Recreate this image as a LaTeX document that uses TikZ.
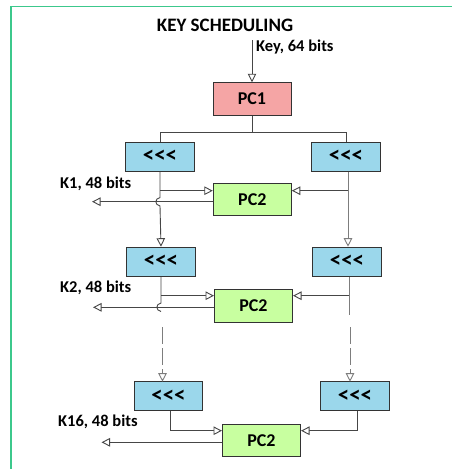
\documentclass[tikz,border=0pt]{standalone}
\usepackage{fontspec}
\setmainfont{Carlito}
\usetikzlibrary{arrows.meta}

\definecolor{framegreen}{RGB}{60,200,140}
\definecolor{pcpink}{RGB}{245,165,165}
\definecolor{rotblue}{RGB}{155,215,235}
\definecolor{pcgreen}{RGB}{200,255,160}
\definecolor{wire}{RGB}{70,70,70}
\definecolor{wirelight}{RGB}{125,125,125}

% rotate-left symbol, set glyph by glyph so no ligature forms
\newcommand{\rotl}{{\fontsize{23}{23}\selectfont{<}{<}{<}}}

\tikzset{
  frame/.style={draw=framegreen, line width=1.4pt},
  blk/.style={draw=black!80, line width=1pt, inner sep=0pt,
    font=\bfseries\fontsize{18}{18}\selectfont},
  pcbox/.style={blk, minimum width=78pt, minimum height=32.5pt},
  rotbox/.style={blk, fill=rotblue, minimum width=68.5pt, minimum height=29pt},
  link/.style={draw=wire, line width=0.9pt},
  linklight/.style={draw=wirelight, line width=0.9pt},
  tip/.style={-{Triangle[open, length=8.5pt, width=8.5pt, fill=white, line width=0.9pt]}},
  lbl/.style={font=\bfseries\fontsize{16.5}{16.5}\selectfont, inner sep=0pt},
  gap/.style={dash pattern=on 17pt off 4pt}
}

\begin{document}
\begin{tikzpicture}[x=1pt, y=-1pt]
\useasboundingbox (0,0) rectangle (452,469);

% outer frame (top and left edges)
\draw[frame] (11,469) -- (11,6.5) -- (452,6.5);

% title
\node[font=\bfseries\fontsize{19}{19}\selectfont, inner sep=0pt] (title) at (225,25) {KEY SCHEDULING};

% blocks
\node[pcbox, fill=pcpink] (pc1) at (252,99) {PC1};
\node[rotbox] (r1L) at (160,156.5) {\rotl};
\node[rotbox] (r1R) at (346,156.5) {\rotl};
\node[pcbox, fill=pcgreen] (pc2a) at (252.3,199.7) {PC2};
\node[rotbox] (r2L) at (161,261.7) {\rotl};
\node[rotbox] (r2R) at (347,261.7) {\rotl};
\node[pcbox, fill=pcgreen] (pc2b) at (253.5,305.8) {PC2};
\node[rotbox] (r3L) at (168.5,396.3) {\rotl};
\node[rotbox] (r3R) at (355,396.3) {\rotl};
\node[pcbox, fill=pcgreen] (pc2c) at (261.5,440.3) {PC2};

% labels
\node[lbl, anchor=west] (keylbl) at (256,47) {Key, 64 bits};
\node[lbl, anchor=west] (k1lbl) at (60,184) {K1, 48 bits};
\node[lbl, anchor=west] (k2lbl) at (60,288) {K2, 48 bits};
\node[lbl, anchor=west] (k16lbl) at (58,421.5) {K16, 48 bits};

% key input into PC1
\coordinate (keyin) at (252,40);
\draw[link, tip] (keyin) -- (pc1.north);

% split of PC1 output into the two halves
\coordinate (split) at (252,132);
\draw[link] (pc1.south) -- (split);
\draw[link] (split) -| (r1L.north);
\draw[link] (split) -| (r1R.north);

% ---- round 1 ----
\coordinate (b1L) at (160,190.7);
\coordinate (b1R) at (348,190.7);
\coordinate (j1a) at (160,197.5);
\coordinate (j1b) at (160,206);
\coordinate (o1) at (92,201.7);
\draw[link, tip] (r1L.south) -- (j1a) .. controls (154.5,198.5) and (154.5,205) .. (j1b) -- (r2L.north);
\draw[link, tip] (b1L) -- (pc2a.west |- b1L);
\draw[linklight, tip] (r1R.south -| b1R) -- (r2R.north -| b1R);
\draw[link, tip] (b1R) -- (pc2a.east |- b1R);
\draw[link, tip] (pc2a.west |- o1) -- (o1);

% ---- round 2 ----
\coordinate (b2L) at (161,295.7);
\coordinate (b2R) at (349,295.7);
\coordinate (j2a) at (161,303);
\coordinate (j2b) at (161,311.5);
\coordinate (o2) at (93,307.3);
\coordinate (dLs) at (162.5,327);
\coordinate (dLe) at (162.5,381.7);
\coordinate (sRe) at (349,315);
\coordinate (dRs) at (350,327);
\coordinate (dRe) at (350,381.7);
\draw[link] (r2L.south) -- (j2a) .. controls (155.5,304) and (155.5,310.5) .. (j2b);
\draw[link, tip] (b2L) -- (pc2b.west |- b2L);
\draw[linklight] (r2R.south -| b2R) -- (sRe);
\draw[link, tip] (b2R) -- (pc2b.east |- b2R);
\draw[link, tip] (pc2b.west |- o2) -- (o2);

% intermediate rounds (elided)
\draw[linklight, gap, tip] (dLs) -- (dLe);
\draw[linklight, gap, tip] (dRs) -- (dRe);

% ---- round 16 ----
\coordinate (c3L) at (170,430.7);
\coordinate (c3R) at (357.7,430.7);
\coordinate (o3) at (101.5,442.3);
\draw[link, tip] (r3L.south -| c3L) -- (c3L) -- (pc2c.west |- c3L);
\draw[link, tip] (r3R.south -| c3R) -- (c3R) -- (pc2c.east |- c3R);
\draw[link, tip] (pc2c.west |- o3) -- (o3);
\end{tikzpicture}
\end{document}
